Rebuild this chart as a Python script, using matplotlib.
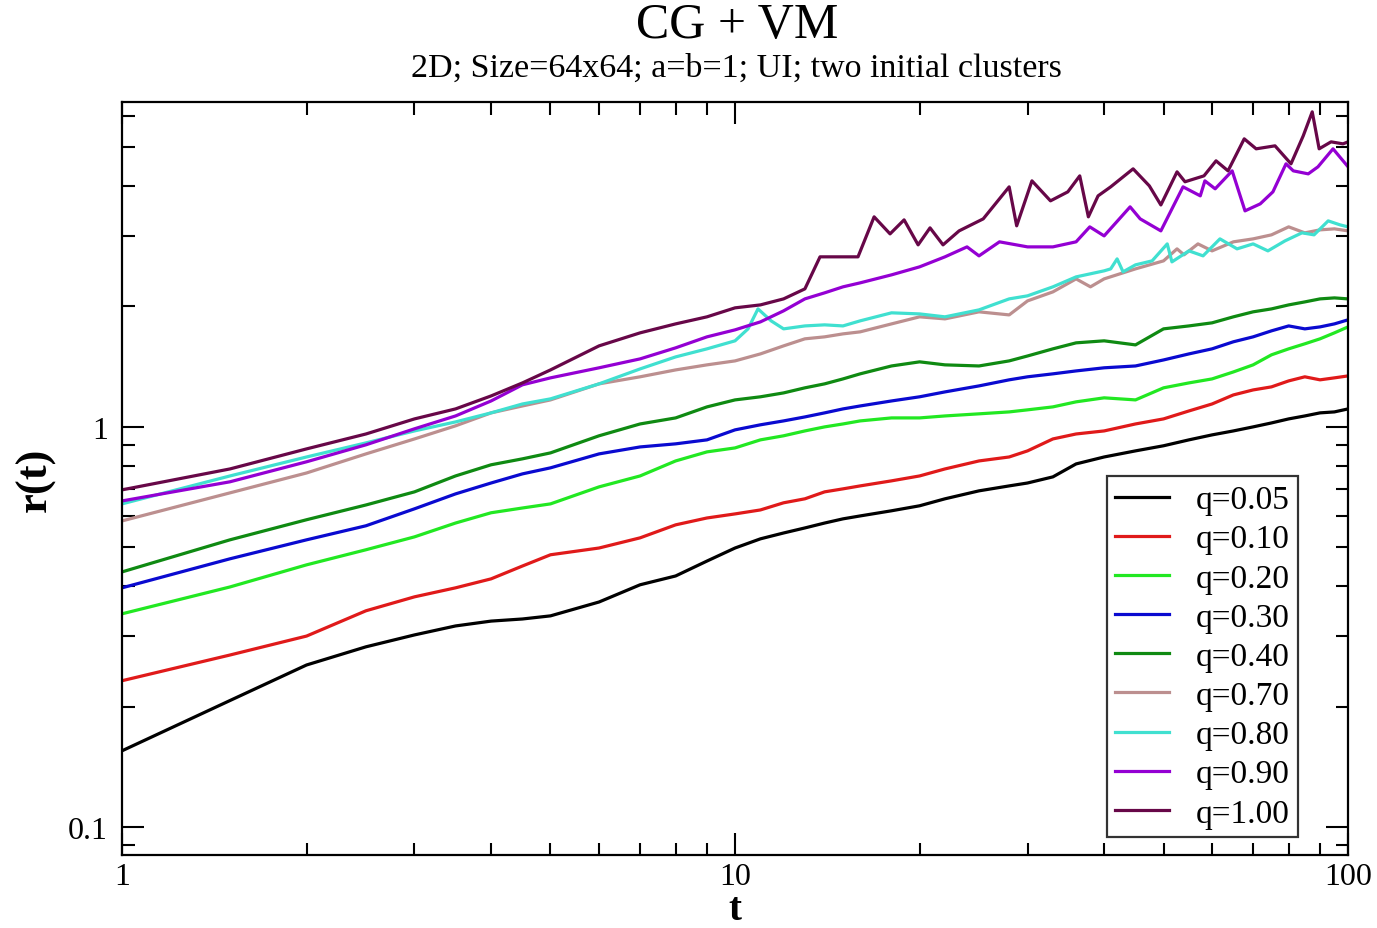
import matplotlib
matplotlib.use("Agg")
import matplotlib.pyplot as plt
from matplotlib.ticker import LogLocator, NullFormatter, FixedLocator, FixedFormatter

plt.rcParams['font.family'] = ['Liberation Serif', 'DejaVu Serif']

# common time grid for the smoother curves
t_grid = [1, 1.5, 2, 2.5, 3, 3.5, 4, 4.5, 5, 6, 7, 8, 9, 10,
          11, 12, 13, 14, 15, 16, 18, 20, 22, 25, 28, 30, 33, 36, 40,
          45, 50, 55, 60, 65, 70, 75, 80, 85, 90, 95, 100]

r_q005 = [0.155, 0.207, 0.254, 0.282, 0.302, 0.318, 0.327, 0.331, 0.337, 0.365,
          0.403, 0.424, 0.462, 0.498, 0.525, 0.543, 0.559, 0.575, 0.589, 0.599,
          0.617, 0.635, 0.661, 0.692, 0.712, 0.724, 0.750, 0.808, 0.841, 0.871,
          0.897, 0.928, 0.955, 0.977, 1.0, 1.023, 1.047, 1.065, 1.084, 1.090, 1.109]

r_q010 = [0.232, 0.269, 0.300, 0.347, 0.376, 0.396, 0.417, 0.449, 0.479, 0.498,
          0.528, 0.569, 0.592, 0.606, 0.620, 0.646, 0.661, 0.688, 0.700, 0.712,
          0.733, 0.754, 0.785, 0.822, 0.841, 0.871, 0.933, 0.960, 0.977, 1.017,
          1.047, 1.096, 1.141, 1.202, 1.237, 1.259, 1.303, 1.334, 1.311, 1.326, 1.341]

r_q020 = [0.341, 0.398, 0.452, 0.493, 0.531, 0.575, 0.610, 0.627, 0.642, 0.708,
          0.754, 0.822, 0.866, 0.886, 0.928, 0.950, 0.977, 1.0, 1.017, 1.035,
          1.053, 1.053, 1.065, 1.078, 1.090, 1.103, 1.122, 1.155, 1.182, 1.168,
          1.252, 1.288, 1.318, 1.372, 1.429, 1.514, 1.567, 1.613, 1.660, 1.718, 1.778]

r_q030 = [0.396, 0.468, 0.522, 0.566, 0.624, 0.680, 0.724, 0.763, 0.790, 0.856,
          0.891, 0.907, 0.928, 0.983, 1.012, 1.035, 1.059, 1.084, 1.109, 1.128,
          1.161, 1.189, 1.223, 1.266, 1.311, 1.334, 1.357, 1.380, 1.405, 1.420,
          1.470, 1.522, 1.567, 1.632, 1.679, 1.738, 1.788, 1.758, 1.778, 1.809, 1.852]

r_q040 = [0.434, 0.522, 0.586, 0.638, 0.688, 0.754, 0.804, 0.832, 0.861, 0.950,
          1.017, 1.053, 1.122, 1.168, 1.189, 1.216, 1.252, 1.281, 1.318, 1.357,
          1.420, 1.454, 1.429, 1.420, 1.462, 1.504, 1.567, 1.622, 1.641, 1.603,
          1.758, 1.788, 1.820, 1.884, 1.939, 1.972, 2.018, 2.053, 2.089, 2.101, 2.089]

t_q070 = [1, 1.5, 2, 2.5, 3, 3.5, 4, 4.5, 5, 6, 7, 8, 9, 10,
          11, 12, 13, 14, 15, 16, 18, 20, 22, 25, 28, 30, 33, 36, 38, 40,
          45, 50, 52.6, 54, 56.9, 60, 65, 70, 75, 80, 85, 90, 95, 100]
r_q070 = [0.582, 0.684, 0.767, 0.856, 0.933, 1.006, 1.084, 1.128, 1.168, 1.281,
          1.334, 1.388, 1.429, 1.462, 1.522, 1.594, 1.660, 1.679, 1.708, 1.728,
          1.809, 1.884, 1.862, 1.939, 1.905, 2.065, 2.175, 2.344, 2.239, 2.344,
          2.483, 2.600, 2.786, 2.692, 2.867, 2.754, 2.901, 2.951, 3.020, 3.162,
          3.055, 3.108, 3.126, 3.090]

t_q080 = [1, 1.5, 2, 2.5, 3, 3.5, 4, 4.5, 5, 6, 7, 8, 9, 10,
          10.5, 10.9, 11.45, 12, 13, 14, 15, 16, 18, 20, 22, 25, 28, 30, 33, 36,
          40, 41, 42, 42.95, 45, 47.9, 50.7, 51.6, 55, 58, 61.8, 65.9, 70, 74,
          78.9, 84.1, 88, 92.8, 97, 100]
r_q080 = [0.642, 0.754, 0.841, 0.912, 0.977, 1.029, 1.084, 1.141, 1.175, 1.281,
          1.396, 1.496, 1.567, 1.641, 1.758, 1.972, 1.841, 1.758, 1.788, 1.799,
          1.788, 1.841, 1.928, 1.916, 1.884, 1.961, 2.089, 2.126, 2.239, 2.371,
          2.455, 2.483, 2.630, 2.441, 2.541, 2.600, 2.867, 2.585, 2.754, 2.676,
          2.951, 2.786, 2.867, 2.754, 2.917, 3.055, 3.020, 3.273, 3.199, 3.162]

t_q090 = [1, 1.5, 2, 2.5, 3, 3.5, 4, 4.5, 5, 6, 7, 8, 9, 10,
          11, 12, 13, 14, 15, 16, 18, 20, 22, 23.9, 25, 27, 30, 33, 36, 37.9,
          40, 44.1, 45.8, 49.5, 53.8, 57.4, 58.4, 60.7, 64.7, 67.9, 71.9, 75.4,
          79.2, 81.4, 86.1, 89.3, 94.5, 100]
r_q090 = [0.653, 0.729, 0.818, 0.902, 0.989, 1.065, 1.161, 1.274, 1.326, 1.405,
          1.479, 1.576, 1.679, 1.748, 1.830, 1.950, 2.089, 2.163, 2.239, 2.291,
          2.399, 2.512, 2.661, 2.818, 2.676, 2.901, 2.818, 2.818, 2.901, 3.162,
          3.002, 3.548, 3.311, 3.090, 3.981, 3.780, 4.121, 3.936, 4.365, 3.467,
          3.610, 3.868, 4.545, 4.365, 4.290, 4.467, 4.955, 4.467]

t_q100 = [1, 1.5, 2, 2.5, 3, 3.5, 4, 4.5, 5, 6, 7, 8, 9, 10,
          11, 12, 13, 13.76, 15, 15.87, 16.86, 17.9, 18.87, 19.89, 20.8, 21.84,
          23.2, 25.4, 28, 28.8, 30.5, 32.7, 34.9, 36.5, 37.7, 39.1, 41, 44.6,
          47.4, 49.5, 52.6, 54.2, 58.2, 60.9, 63.7, 67.7, 70.8, 76, 80.7, 84.5,
          87.4, 89.7, 93.8, 98.1, 100]
r_q100 = [0.696, 0.785, 0.881, 0.960, 1.047, 1.109, 1.195, 1.288, 1.388, 1.594,
          1.718, 1.809, 1.884, 1.984, 2.018, 2.089, 2.213, 2.661, 2.661, 2.661,
          3.350, 3.037, 3.292, 2.851, 3.144, 2.851, 3.090, 3.311, 3.981, 3.181,
          4.121, 3.673, 3.868, 4.241, 3.350, 3.780, 3.981, 4.416, 4.004, 3.587,
          4.340, 4.099, 4.241, 4.624, 4.365, 5.248, 4.955, 5.041, 4.545, 5.340,
          6.130, 4.955, 5.158, 5.099, 5.158]

series = [
    ("q=0.05", t_grid, r_q005, "#000000"),
    ("q=0.10", t_grid, r_q010, "#e01a1a"),
    ("q=0.20", t_grid, r_q020, "#22e822"),
    ("q=0.30", t_grid, r_q030, "#0a0ad0"),
    ("q=0.40", t_grid, r_q040, "#0f8a12"),
    ("q=0.70", t_q070, r_q070, "#bc8f8f"),
    ("q=0.80", t_q080, r_q080, "#40e0d0"),
    ("q=0.90", t_q090, r_q090, "#9400d3"),
    ("q=1.00", t_q100, r_q100, "#670748"),
]

fig = plt.figure(figsize=(13.77, 9.29), dpi=100)
ax = fig.add_axes([0.0886, 0.0786, 0.8904, 0.8106])

for label, t, r, col in series:
    ax.plot(t, r, color=col, lw=2.3, label=label)

ax.set_xscale("log")
ax.set_yscale("log")
ax.set_xlim(1, 100)
ax.set_ylim(0.0851, 6.49)

ax.xaxis.set_major_locator(FixedLocator([1, 10, 100]))
ax.xaxis.set_major_formatter(FixedFormatter(["1", "10", "100"]))
ax.xaxis.set_minor_locator(LogLocator(base=10, subs=range(2, 10)))
ax.xaxis.set_minor_formatter(NullFormatter())
ax.yaxis.set_major_locator(FixedLocator([0.1, 1]))
ax.yaxis.set_major_formatter(FixedFormatter(["0.1", "1"]))
ax.yaxis.set_minor_locator(LogLocator(base=10, subs=range(2, 10)))
ax.yaxis.set_minor_formatter(NullFormatter())

ax.tick_params(which="both", direction="in", top=True, right=True, width=1.5,
               labelsize=23, pad=10)
ax.tick_params(axis="x", which="both", pad=5)
ax.tick_params(which="major", length=16)
ax.tick_params(which="minor", length=9)
for s in ax.spines.values():
    s.set_linewidth(1.6)

xl = ax.set_xlabel("t", fontsize=28, fontweight="bold")
xl.set_va("center")
ax.xaxis.set_label_coords(0.5, -0.072)
ax.set_ylabel("r(t)", fontsize=32, fontweight="bold", labelpad=9)

fig.text(0.535, 0.972, "CG + VM", ha="center", va="center", fontsize=36)
fig.text(0.535, 0.926, "2D; Size=64x64; a=b=1; UI; two initial clusters",
         ha="center", va="center", fontsize=24.5)

leg = ax.legend(loc="lower right", bbox_to_anchor=(0.959, 0.024), borderaxespad=0,
                fontsize=24, frameon=True, fancybox=False, edgecolor="black",
                handlelength=1.6, handletextpad=0.8, labelspacing=0.26,
                borderpad=0.25)
leg.get_frame().set_linewidth(1.6)

fig.savefig("out.png", dpi=100)
